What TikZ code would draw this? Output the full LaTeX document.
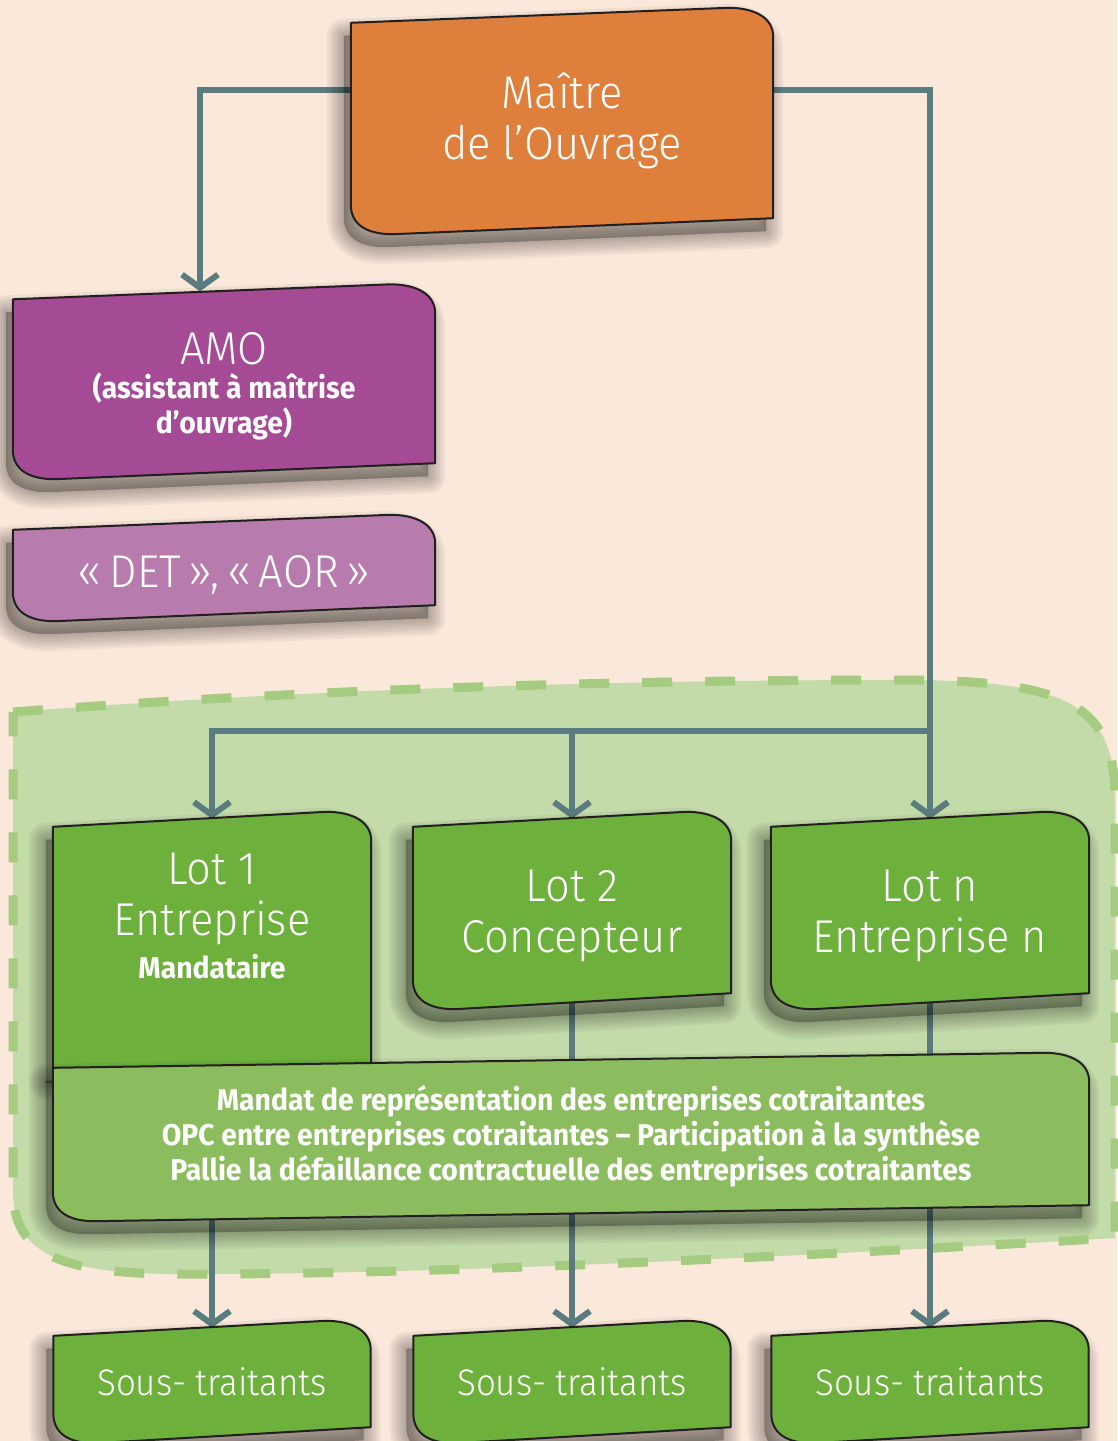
\documentclass[tikz,border=0pt]{standalone}
\usepackage{fontspec}
\setmainfont{Fira Sans Light}[FakeStretch=0.945]
\newfontfamily\heavy{Fira Sans Bold}[FakeStretch=0.945]
\usetikzlibrary{arrows.meta,calc}

\definecolor{paper}{RGB}{250,232,218}
\definecolor{edge}{RGB}{35,31,32}
\definecolor{wire}{RGB}{91,124,126}
\definecolor{orangebox}{RGB}{222,127,60}
\definecolor{amobox}{RGB}{165,74,149}
\definecolor{detbox}{RGB}{184,123,174}
\definecolor{lotgreen}{RGB}{109,176,60}
\definecolor{mandgreen}{RGB}{139,189,95}
\definecolor{zonefill}{RGB}{194,219,169}
\definecolor{zonedash}{RGB}{164,203,128}

\newcommand{\largetext}{\fontsize{46}{51}\selectfont}
\newcommand{\boldtext}{\heavy\fontsize{30}{35}\selectfont}

% outline of a box round a named node
\newcommand{\shapepath}[1]{%
  ($(#1.north west)+(0,8)$) -- ($(#1.north east)+(-45,-7)$)
  .. controls ($(#1.north east)+(-20,-7)$) and ($(#1.north east)+(0,2)$) .. ($(#1.north east)+(0,22)$)
  -- ($(#1.south east)+(0,-8)$) -- ($(#1.south west)+(42,8)$)
  .. controls ($(#1.south west)+(15,8)$) and ($(#1.south west)+(0,-2)$) .. ($(#1.south west)+(0,-22)$)
  -- cycle}
% lot 1 runs down behind the mandate box
\newcommand{\lotonepath}{%
  ($(lot1.north west)+(0,8)$) -- ($(lot1.north east)+(-45,-7)$)
  .. controls ($(lot1.north east)+(-20,-7)$) and ($(lot1.north east)+(0,2)$) .. ($(lot1.north east)+(0,22)$)
  -- ($(lot1.east |- mandat.north)+(0,10)$) -- ($(lot1.west |- mandat.north)+(0,10)$) -- cycle}
% soft shadow under a path
\newcommand{\boxshadow}[1]{%
  \foreach \w in {34,29,24,19,14,9,4}
    \path[fill=black, draw=black, line width=\w pt, line join=round, opacity=0.042,
      transform canvas={shift={(-7pt,-13pt)}}] #1;}
\newcommand{\boxshape}[2]{%
  \boxshadow{\shapepath{#1}}
  \path[boxpath, fill=#2] \shapepath{#1};}

\pgfdeclarelayer{zone}
\pgfdeclarelayer{lines}
\pgfdeclarelayer{boxes}
\pgfsetlayers{zone,lines,boxes,main}

\begin{document}
\begin{tikzpicture}[x=1pt, y=-1pt,
    box/.style={rectangle, inner sep=0pt, align=center, text=white, font=\largetext},
    boxpath/.style={draw=edge, line width=2pt, line join=round},
    link/.style={draw=wire, line width=6pt},
    tip/.style={-{Straight Barb[length=13pt, width=36pt]}},
    zone/.style={fill=zonefill, draw=zonedash, line width=9pt, dash pattern=on 30pt off 33pt}]
  \useasboundingbox (0,0) rectangle (1117,1441);

  % nodes
  \node[box, minimum width=422pt, minimum height=211pt] (maitre) at (562,120.5) {Maître\\de l’Ouvrage};
  \node[box, minimum width=422pt, minimum height=179.5pt] (amo) at (224,381.25)
    {\rule{0pt}{43pt}AMO\\[-17pt]{\boldtext (assistant à maîtrise}\\[-16pt]{\boldtext d’ouvrage)}};
  \node[box, minimum width=422pt, minimum height=91pt] (det) at (224,567.5) {\rule{0pt}{47pt}«\,DET\,»,\,«\,AOR\,»};
  \node[box, minimum width=318pt, minimum height=182pt] (lot1) at (212,910)
    {\rule{0pt}{44pt}Lot 1\\Entreprise\\[-8pt]{\boldtext Mandataire}};
  \node[box, minimum width=318pt, minimum height=182pt] (lot2) at (572,910) {\rule{0pt}{44pt}Lot 2\\Concepteur};
  \node[box, minimum width=318pt, minimum height=182pt] (lotn) at (930,910) {\rule{0pt}{44pt}Lot n\\Entreprise n};
  \node[box, font=\boldtext, minimum width=1036pt, minimum height=153pt] (mandat) at (571,1136.5)
    {Mandat de représentation des entreprises cotraitantes\\
     OPC entre entreprises cotraitantes – Participation à la synthèse\\
     Pallie la défaillance contractuelle des entreprises cotraitantes};
  \node[box, font=\fontsize{37}{42}\selectfont, minimum width=317pt, minimum height=107pt] (sous1) at (212,1381.5) {Sous- traitants};
  \node[box, font=\fontsize{37}{42}\selectfont, minimum width=317pt, minimum height=107pt] (sous2) at (572,1381.5) {Sous- traitants};
  \node[box, font=\fontsize{37}{42}\selectfont, minimum width=317pt, minimum height=107pt] (sous3) at (930,1381.5) {Sous- traitants};
  \coordinate (bus) at (930,731);

  \begin{pgfonlayer}{zone}
    \fill[paper] (0,0) rectangle (1117,1441);
    \path[zone] (13,712) .. controls (300,690) and (600,680) .. (900,680)
      .. controls (1070,680) and (1115,705) .. (1115,800) -- (1115,1238)
      .. controls (700,1262) and (400,1274) .. (200,1274)
      .. controls (60,1276) and (13,1255) .. (13,1190) -- cycle;
  \end{pgfonlayer}

  \begin{pgfonlayer}{lines}
    \draw[link, tip] ($(maitre.west)+(0,-31)$) -| ($(amo.north)+(-24,0)$);
    \draw[link, tip] ($(maitre.east)+(0,-31)$) -| (lotn.north);
    \draw[link, tip] (bus) -| (lot1.north);
    \draw[link, tip] (bus -| lot2.north) -- (lot2.north);
    \draw[link, tip] (lot1.south) -- (sous1.north);
    \draw[link, tip] (lot2.south) -- (sous2.north);
    \draw[link, tip] (lotn.south) -- (sous3.north);
  \end{pgfonlayer}

  \begin{pgfonlayer}{boxes}
    \boxshape{maitre}{orangebox}
    \boxshape{amo}{amobox}
    \boxshape{det}{detbox}
    \boxshadow{\lotonepath}
    \path[boxpath, fill=lotgreen] \lotonepath;
    \boxshape{lot2}{lotgreen}
    \boxshape{lotn}{lotgreen}
    \boxshape{mandat}{mandgreen}
    \boxshape{sous1}{lotgreen}
    \boxshape{sous2}{lotgreen}
    \boxshape{sous3}{lotgreen}
  \end{pgfonlayer}
\end{tikzpicture}
\end{document}
